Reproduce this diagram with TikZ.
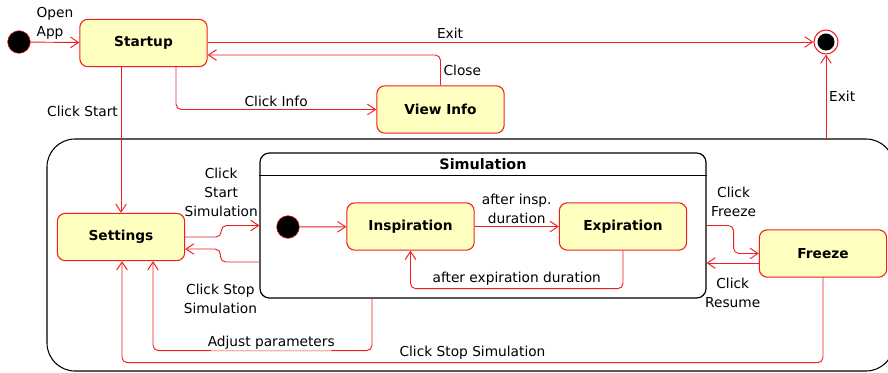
\documentclass[tikz,border=0pt]{standalone}
\usepackage{fontspec}
\setmainfont{DejaVu Sans}
\usetikzlibrary{
    arrows.meta,
    calc,
    positioning
}
\definecolor{umlred}{RGB}{240,30,30}
\definecolor{umlfill}{RGB}{255,255,192}
\tikzset{
    state/.style={rectangle, rounded corners=6pt, draw=umlred, fill=umlfill,
        line width=0.8pt, minimum width=95.5pt, minimum height=35.5pt,
        font=\fontsize{10.3}{13}\selectfont\bfseries},
    initstate/.style={circle, draw=umlred, fill=black, minimum size=17pt, inner sep=0pt},
    trans/.style={draw=umlred, line width=0.7pt, rounded corners=4pt,
        -{Straight Barb[length=6pt,width=8pt]}},
    lbl/.style={font=\fontsize{10.3}{14.2}\selectfont, align=center, inner sep=2pt}
}

\begin{document}
\begin{tikzpicture}[x=0.75pt, y=-0.75pt]
    \clip (0,0) rectangle (888,372);

    % outer state (running application)
    \draw[line width=0.8pt, rounded corners=21pt] (47,139) rectangle (894,371);
    \coordinate (outertop) at (826,139);

    \node[initstate] (init) at (19,42) {};
    \node[state] (startup) at (143.5,43) {Startup};
    \node[state] (viewinfo) at (440.5,109.5) {View Info};
    \node[circle, draw=umlred, fill=white, line width=0.8pt, minimum size=18pt, inner sep=0pt,
        path picture={\fill[black] (path picture bounding box.center) circle (6.4pt);}]
        (final) at (826,42) {};
    \node[state] (settings) at (121,237) {Settings};

    % composite state
    \node[rectangle, rounded corners=7pt, draw=black, line width=0.9pt, fill=white,
        minimum width=334.5pt, minimum height=108.75pt] (sim) at (483,225.5) {};
    \draw[line width=0.9pt] ($(sim.north west)+(0,23)$) -- ($(sim.north east)+(0,23)$);
    \node[font=\fontsize{10.8}{13}\selectfont\bfseries] (simtitle) at ($(sim.north)+(0,12)$) {Simulation};

    \node[initstate] (siminit) at (288,227) {};
    \node[state] (insp) at (410.5,226.5) {Inspiration};
    \node[state] (exp) at (623,226.5) {Expiration};
    \node[state] (freeze) at (823,253.5) {Freeze};

    % transitions
    \draw[trans] (init) -- node[lbl, above, align=left] {Open\\App} (startup);
    \draw[trans] (startup.east |- final) -- node[lbl, above, pos=0.4] {Exit} (final);
    \draw[trans] (viewinfo.north) |- node[lbl, right, pos=0.25] {Close} ($(startup.east)+(0,12)$);
    \draw[trans] ($(startup.south)+(32.5,0)$) |- node[lbl, above, pos=0.75] {Click Info} (viewinfo.west);
    \draw[trans] (settings.north |- startup.south) -- node[lbl, left, pos=0.3] {Click Start} (settings.north);
    \draw[trans] (outertop) -- node[lbl, right, pos=0.5] {Exit} (final);

    \draw[trans] (settings.east) -- ++(36,0)
        |- node[lbl, above, pos=0.5, yshift=4pt] {Click\\Start\\Simulation} (sim.west);
    \draw[trans] ($(sim.west)+(0,36.5)$) -- ++(-39,0)
        node[lbl, below=14pt] {Click Stop\\Simulation}
        |- ($(settings.east)+(0,12)$);

    \draw[trans] (siminit) -- (insp);
    \draw[trans] (insp) -- node[lbl, above] {after insp.\\duration} (exp);
    \draw[trans] (exp.south) -- ++(0,38) -| node[lbl, above, pos=0.25] {after expiration duration} (insp.south);

    \draw[trans] (sim.east) -- ++(27,0)
        node[lbl, above=4pt] {Click\\Freeze}
        |- (freeze.west);
    \draw[trans] ($(freeze.west)+(0,9.5)$) -- node[lbl, below=9pt, pos=0.5] {Click\\Resume}
        ($(sim.east)+(0,37.5)$);

    \draw[trans] ($(sim.south)+(-111,0)$) -- ++(0,52)
        -| node[lbl, fill=white, inner sep=1pt, pos=0.23, yshift=6pt] {Adjust parameters}
        ($(settings.south)+(32,0)$);
    \draw[trans] (freeze.south) -- ++(0,85)
        -| node[lbl, above, pos=0.25] {Click Stop Simulation} ($(settings.south)+(1,0)$);
\end{tikzpicture}
\end{document}
